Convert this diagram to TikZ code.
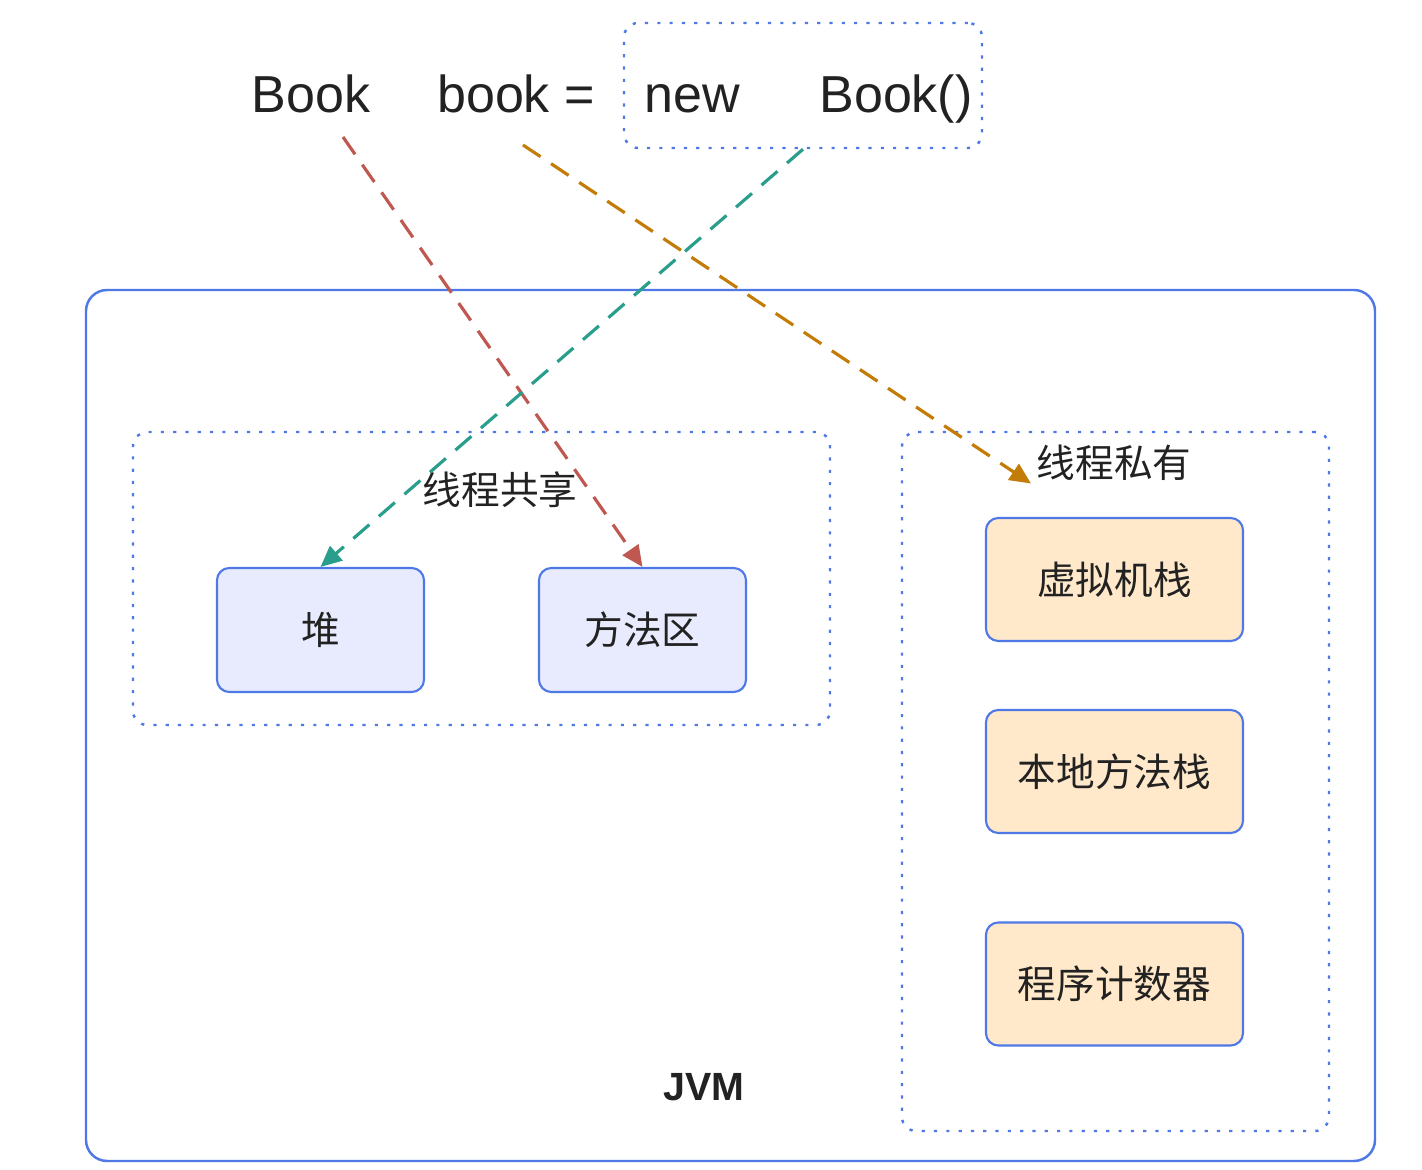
\documentclass[tikz,border=0pt]{standalone}
\usepackage{fontspec}
\setmainfont{Liberation Sans}
\newfontfamily\cjk{Noto Sans CJK SC}
\usepackage{tikz}
\usetikzlibrary{positioning, arrows.meta}

\definecolor{jvmblue}{RGB}{77,120,230}
\definecolor{heapfill}{RGB}{232,235,253}
\definecolor{stackfill}{RGB}{255,233,202}
\definecolor{refred}{RGB}{190,88,80}
\definecolor{reforange}{RGB}{196,124,8}
\definecolor{refgreen}{RGB}{42,158,140}
\definecolor{inktext}{RGB}{34,34,34}

\begin{document}
\begin{tikzpicture}[
    codetext/.style={inner sep=0pt, anchor=base, text=inktext, font=\fontsize{14.8pt}{16pt}\selectfont},
    dotbox/.style={draw=jvmblue, line width=0.7pt, dash pattern=on 0.9pt off 2.6pt, rounded corners=4pt, inner sep=0pt},
    area/.style={inner sep=0pt, text=inktext, font=\cjk\fontsize{11pt}{13pt}\selectfont},
    heapbox/.style={draw=jvmblue, line width=0.6pt, fill=heapfill, rounded corners=3.5pt, minimum width=2.07cm, minimum height=1.24cm, inner sep=0pt, text=inktext, font=\cjk\fontsize{11pt}{13pt}\selectfont},
    stackbox/.style={heapbox, fill=stackfill, minimum width=2.57cm, minimum height=1.23cm},
    refline/.style={line width=0.9pt, dash pattern=on 6pt off 3.6pt, -{Triangle[length=6pt, width=5.4pt]}}
  ]
  \useasboundingbox (0,0) rectangle (14.22,-11.7);

  % the statement
  \node[codetext] (type) at (3.11,-1.13) {Book};
  \node[codetext] (var) at (5.16,-1.13) {book =};
  \node[codetext] (new) at (6.92,-1.13) {new};
  \node[codetext] (ctor) at (8.96,-1.13) {Book()};
  \node[dotbox, minimum width=3.58cm, minimum height=1.25cm] (newbox) at (8.03,-0.855) {};

  % jvm
  \node[draw=jvmblue, line width=0.7pt, rounded corners=6pt, minimum width=12.89cm, minimum height=8.71cm, inner sep=0pt] (jvm) at (7.305,-7.255) {};
  \node[inner sep=0pt, text=inktext, font=\bfseries\fontsize{11.2pt}{13pt}\selectfont] (jvmlabel) at (7.04,-10.87) {JVM};

  \node[dotbox, minimum width=6.97cm, minimum height=2.93cm] (shared) at (4.815,-5.785) {};
  \node[area] (sharedlabel) at (5.00,-4.90) {线程共享};
  \node[heapbox] (heap) at (3.205,-6.30) {堆};
  \node[heapbox] (method) at (6.425,-6.30) {方法区};

  \node[dotbox, minimum width=4.27cm, minimum height=6.99cm] (private) at (11.155,-7.815) {};
  \node[area] (privlabel) at (11.14,-4.63) {线程私有};
  \node[stackbox] (vmstack) at (11.145,-5.795) {虚拟机栈};
  \node[stackbox] (nativestack) at (11.145,-7.715) {本地方法栈};
  \node[stackbox] (pc) at (11.145,-9.84) {程序计数器};

  % references
  \coordinate (typefoot) at (3.43,-1.37);
  \coordinate (varfoot) at (5.23,-1.45);
  \draw[refline, refred] (typefoot) -- (method.north);
  \draw[refline, reforange] (varfoot) -- ([xshift=-0.05cm, yshift=-0.02cm]privlabel.south west);
  \draw[refline, refgreen] (newbox.south) -- (heap.north);
\end{tikzpicture}
\end{document}
